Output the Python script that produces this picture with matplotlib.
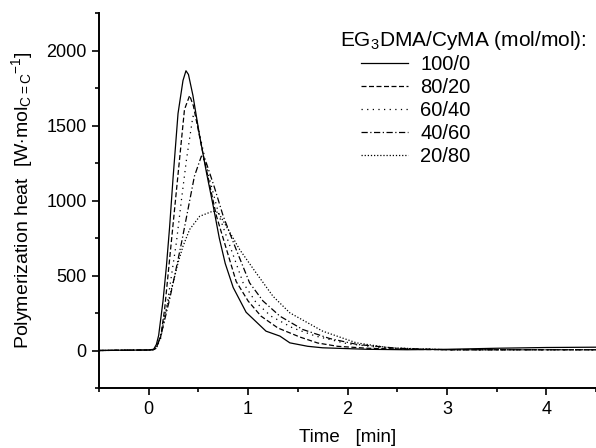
import numpy as np
import matplotlib
matplotlib.use("Agg")
import matplotlib.pyplot as plt
from matplotlib.ticker import MultipleLocator

plt.rcParams["font.family"] = ["Liberation Sans", "DejaVu Sans"]
plt.rcParams["mathtext.fontset"] = "custom"
plt.rcParams["mathtext.rm"] = "Liberation Sans"
plt.rcParams["mathtext.it"] = "Liberation Sans"

# 100/0
t_100 = [-0.5, -0.3, -0.1, 0.0, 0.05, 0.077, 0.10, 0.144, 0.178, 0.21, 0.245, 0.295,
         0.345, 0.375, 0.40, 0.445, 0.51, 0.58, 0.65, 0.71, 0.77, 0.85, 0.98, 1.18,
         1.32, 1.42, 1.6, 1.75, 2.2, 2.6, 3.0, 3.5, 4.0, 4.5]
h_100 = [0, 2, 3, 4, 8, 40, 100, 330, 560, 820, 1150, 1580,
         1800, 1865, 1840, 1700, 1440, 1190, 960, 750, 580, 420, 255, 129,
         96, 51, 28, 18, 8, 5, 8, 15, 20, 22]
# 80/20
t_80 = [-0.5, -0.2, 0.0, 0.05, 0.077, 0.12, 0.16, 0.21, 0.26, 0.31, 0.36, 0.412,
        0.45, 0.55, 0.68, 0.78, 0.88, 1.0, 1.13, 1.3, 1.52, 1.7, 1.9, 2.2,
        2.6, 3.0, 3.5, 4.0, 4.5]
h_80 = [0, 2, 3, 6, 20, 90, 273, 607, 940, 1273, 1607, 1700,
        1630, 1300, 900, 680, 460, 330, 229, 150, 90, 50, 28, 15,
        8, 5, 5, 5, 5]
# 60/40
t_60 = [-0.5, -0.2, 0.0, 0.05, 0.077, 0.12, 0.178, 0.228, 0.278, 0.33, 0.38, 0.445,
        0.48, 0.6, 0.71, 0.83, 0.95, 1.08, 1.23, 1.45, 1.68, 2.0, 2.4, 3.0,
        3.5, 4.0, 4.5]
h_60 = [0, 2, 3, 6, 18, 80, 273, 495, 718, 1007, 1273, 1562,
        1540, 1175, 895, 673, 451, 320, 229, 150, 96, 45, 15, 5,
        5, 5, 5]
# 40/60
t_40 = [-0.5, -0.2, 0.0, 0.05, 0.077, 0.13, 0.21, 0.26, 0.33, 0.395, 0.46, 0.53,
        0.58, 0.66, 0.75, 0.88, 1.015, 1.15, 1.32, 1.55, 1.82, 2.1, 2.5, 3.0,
        3.5, 4.0, 4.5]
h_40 = [0, 2, 3, 6, 16, 120, 340, 495, 718, 940, 1162, 1296,
        1250, 1090, 895, 673, 451, 330, 229, 140, 80, 40, 15, 5,
        5, 5, 5]
# 20/80
t_20 = [-0.5, -0.2, 0.0, 0.05, 0.077, 0.12, 0.16, 0.194, 0.245, 0.295, 0.345, 0.412,
        0.513, 0.646, 0.70, 0.78, 0.915, 1.08, 1.25, 1.42, 1.75, 2.09, 2.42, 3.0,
        3.5, 4.0, 4.5]
h_20 = [0, 2, 3, 6, 15, 90, 229, 318, 451, 584, 695, 807,
        895, 929, 920, 829, 673, 518, 362, 251, 129, 51, 18, 5,
        5, 5, 5]

labels = ["100/0", "80/20", "60/40", "40/60", "20/80"]
series = [(t_100, h_100), (t_80, h_80), (t_60, h_60), (t_40, h_40), (t_20, h_20)]
styles = ["-", (0, (4, 2)), (0, (1, 3.5)), (0, (5, 2, 1, 2)), (0, (1, 1.5))]

fig = plt.figure(figsize=(5.96, 4.48), dpi=100)
ax = fig.add_axes([99 / 596, 60 / 448, 497 / 596, 375 / 448])

for (t, h), ls, lab in zip(series, styles, labels):
    ax.plot(t, h, color="black", lw=0.9, linestyle=ls, label=lab)

ax.set_xlim(-0.5, 4.5)
ax.set_ylim(-250, 2250)
ax.xaxis.set_major_locator(MultipleLocator(1))
ax.xaxis.set_minor_locator(MultipleLocator(0.5))
ax.yaxis.set_major_locator(MultipleLocator(500))
ax.yaxis.set_minor_locator(MultipleLocator(250))
ax.tick_params(which="both", direction="out", width=1.2, labelsize=13, pad=4)
ax.tick_params(which="major", length=5)
ax.tick_params(which="minor", length=3)
for s in ["top", "right"]:
    ax.spines[s].set_visible(False)
for s in ["left", "bottom"]:
    ax.spines[s].set_linewidth(1.4)

ax.set_xlabel("Time   [min]", fontsize=13.5, labelpad=8)
ax.set_ylabel(r"Polymerization heat  [W$\cdot$mol$_{\mathregular{C=C}}$$^{\mathregular{-1}}$]",
              fontsize=14, labelpad=8)

fig.text(340 / 596, 1 - 46 / 448, r"EG$_{\mathregular{3}}$DMA/CyMA (mol/mol):", fontsize=15,
         ha="left", va="baseline")
ax.legend(loc="upper left", bbox_to_anchor=(361 / 596, 1 - 55 / 448),
          bbox_transform=fig.transFigure, frameon=False, fontsize=14.5,
          handlelength=2.35, handletextpad=0.6, labelspacing=0.2,
          borderpad=0, borderaxespad=0)

fig.savefig("out.png", dpi=100)
